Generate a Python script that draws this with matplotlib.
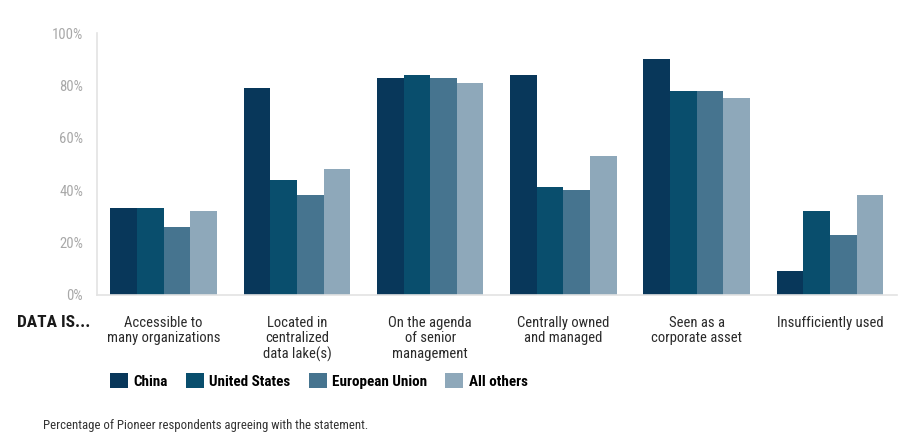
import matplotlib
matplotlib.use('Agg')
import matplotlib.pyplot as plt
import numpy as np
from matplotlib.patches import Patch

plt.rcParams['font.family'] = ['Roboto Condensed', 'DejaVu Sans']

categories = ['Accessible to\nmany organizations', 'Located in\ncentralized\ndata lake(s)',
              'On the agenda\nof senior\nmanagement', 'Centrally owned\nand managed',
              'Seen as a\ncorporate asset', 'Insufficiently used']
series = ['China', 'United States', 'European Union', 'All others']
china = [33, 79, 83, 84, 90, 9]
us = [33, 44, 84, 41, 78, 32]
eu = [26, 38, 83, 40, 78, 23]
others = [32, 48, 81, 53, 75, 38]
colors = ['#08375a', '#094e6d', '#46748f', '#8ea8ba']
yticks = [0, 20, 40, 60, 80, 100]

fig = plt.figure(figsize=(9.18, 4.46), dpi=100)
ax = fig.add_axes([0.1057, 0.339, 0.871, 0.587])

x = np.arange(len(categories))
w = 0.2
for i, vals in enumerate([china, us, eu, others]):
    ax.bar(x + (i - 1.5) * w, vals, width=w, color=colors[i], label=series[i])

ax.set_xlim(-0.5, 5.5)
ax.set_ylim(0, 100)
ax.set_yticks(yticks)
ax.set_yticklabels([f'{t}%' for t in yticks], color='#a8a8a8', fontsize=10.5)
ax.tick_params(axis='y', length=0, pad=10)
ax.set_xticks(x)
ax.set_xticklabels(categories, fontsize=10.5, color='#2a2a2a', va='top', linespacing=1.15)
ax.tick_params(axis='x', length=0, pad=15)
for s in ['top', 'right']:
    ax.spines[s].set_visible(False)
for s in ['left', 'bottom']:
    ax.spines[s].set_color('#e3e3e3')
    ax.spines[s].set_linewidth(1.2)

fig.text(0.019, 0.277, 'DATA IS...', fontsize=12.5, fontweight='bold', color='#1a1a1a', va='center')

handles = [Patch(facecolor=c, label=s) for c, s in zip(colors, series)]
leg = fig.legend(handles=handles, loc='center left', bbox_to_anchor=(0.1046, 0.146), ncol=4,
                 frameon=False, handlelength=1.2, handleheight=1.1, handletextpad=0.35,
                 columnspacing=1.2, prop={'weight': 'bold', 'size': 10.9})

fig.text(0.047, 0.045, 'Percentage of Pioneer respondents agreeing with the statement.',
         fontsize=9.2, color='#333333', va='center')

fig.savefig('out.png', dpi=100)
